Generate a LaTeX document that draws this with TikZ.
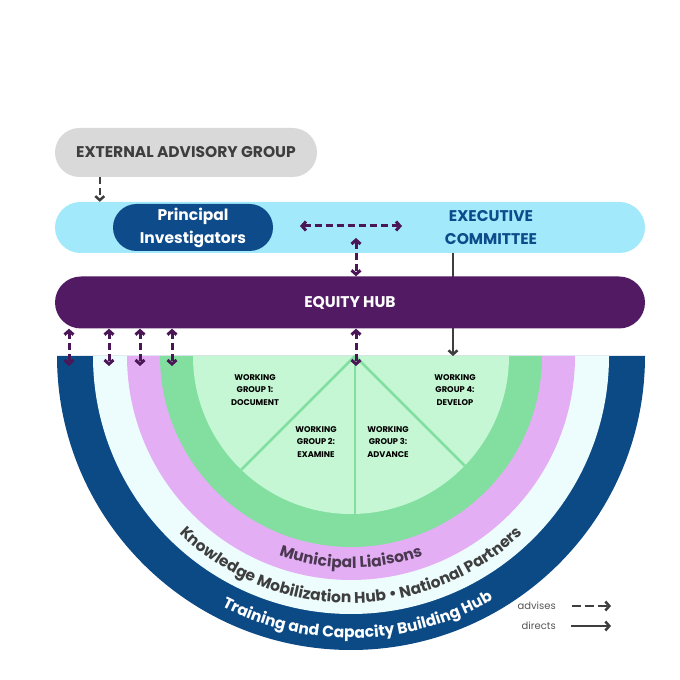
\documentclass[tikz,border=0pt]{standalone}
\usepackage{fontspec}
\setmainfont{Poppins}
\usetikzlibrary{arrows.meta,decorations.text}
\definecolor{eaggray}{HTML}{D9D9D9}
\definecolor{txtgray}{HTML}{3E3E3E}
\definecolor{barcyan}{HTML}{A2EAFB}
\definecolor{navy}{HTML}{0D4B8A}
\definecolor{ringblue}{HTML}{0C4A86}
\definecolor{eqpurple}{HTML}{521A62}
\definecolor{arrpurple}{HTML}{4A1656}
\definecolor{palering}{HTML}{EDFDFD}
\definecolor{pinkring}{HTML}{E4AEF5}
\definecolor{greenring}{HTML}{82DF9F}
\definecolor{lightgreen}{HTML}{C5F7D4}
\definecolor{muntext}{HTML}{4B3851}
\definecolor{legtext}{HTML}{555555}
\begin{document}
\begin{tikzpicture}[x=1pt,y=1pt,
  pill/.style={inner sep=0, align=center, font=\bfseries\fontsize{15.5}{23}\selectfont},
  wgtext/.style={inner sep=0, align=center, font=\bfseries\fontsize{8.3}{12.5}\selectfont, text=black},
  padv/.style={draw=arrpurple, line width=3pt, dash pattern=on 7pt off 4pt,
    {Straight Barb[length=4pt,width=9pt]}-{Straight Barb[length=4pt,width=9pt]}},
  gadv/.style={draw=txtgray, line width=2.5pt, dash pattern=on 7pt off 4pt,
    -{Straight Barb[length=4pt,width=9pt]}},
  gdir/.style={draw=txtgray, line width=2.5pt, -{Straight Barb[length=4pt,width=9pt]}},
  pieline/.style={draw=greenring, line width=2.5pt},
  curvetext/.style={decorate, decoration={text along path, text align=center}}
]
\useasboundingbox (0,0) rectangle (680,680);

% wheel
\coordinate (wc) at (351,324);
\fill[ringblue] (wc) ++(180:294) arc[start angle=180,end angle=360,radius=294] -- cycle;
\fill[palering] (wc) ++(180:258) arc[start angle=180,end angle=360,radius=258] -- cycle;
\fill[pinkring] (wc) ++(180:224) arc[start angle=180,end angle=360,radius=224] -- cycle;
\fill[greenring] (wc) ++(180:191) arc[start angle=180,end angle=360,radius=191] -- cycle;
\fill[lightgreen] (wc) ++(180:158) arc[start angle=180,end angle=360,radius=158] -- cycle;

\coordinate (pc) at (355,324);
\draw[pieline] (pc) -- (241.3,210.3);
\draw[pieline] (pc) -- (464.7,214.3);
\draw[pieline] (pc) -- (355,166);

\node[wgtext] (wg1) at (255,290) {WORKING\\GROUP 1:\\DOCUMENT};
\node[wgtext] (wg2) at (316,238) {WORKING\\GROUP 2:\\EXAMINE};
\node[wgtext] (wg3) at (388,238) {WORKING\\GROUP 3:\\ADVANCE};
\node[wgtext] (wg4) at (455,290) {WORKING\\GROUP 4:\\DEVELOP};

% curved texts
\path[curvetext, decoration={text={|\bfseries\fontsize{15.5}{16}\selectfont\color{muntext}|Municipal Liaisons}}]
  (wc) ++(190:212) arc[start angle=190,end angle=350,radius=212];
\path[curvetext, decoration={text={|\bfseries\fontsize{15.5}{16}\selectfont\color{txtgray}|Knowledge Mobilization Hub • National Partners}}]
  (wc) ++(185:247) arc[start angle=185,end angle=355,radius=247];
\path[curvetext, decoration={text={|\bfseries\fontsize{15.5}{16}\selectfont\color{white}|Training and Capacity Building Hub}}]
  (wc) ++(186:282) arc[start angle=186,end angle=357,radius=282];

% top blocks
\node[pill, fill=eaggray, text=txtgray, minimum width=262, minimum height=49, rounded corners=24.5pt] (eag) at (186,527.5) {EXTERNAL ADVISORY GROUP};
\node[fill=barcyan, minimum width=590, minimum height=51, rounded corners=25.5pt, inner sep=0] (execbar) at (350,452.5) {};
\node[pill, fill=navy, text=white, minimum width=160, minimum height=47, rounded corners=23.5pt] (pi) at (193,452.5) {Principal\\Investigators};
\node[pill, text=navy] (exec) at (491,452.5) {EXECUTIVE\\COMMITTEE};

% directs line (behind equity hub)
\coordinate (dtop) at (453,427);
\draw[gdir] (dtop) -- (dtop |- wc);

\node[pill, fill=eqpurple, text=white, minimum width=590, minimum height=52, rounded corners=26pt] (equity) at (350,377.5) {EQUITY HUB};

% advises arrows
\draw[gadv] ([xshift=45]eag.south west) -- ([xshift=45]execbar.north west);
\coordinate (hl) at (300,454);
\coordinate (hr) at (402,454);
\draw[padv] (hl) -- (hr);
\coordinate (vt) at (356,442);
\draw[padv] (vt) -- (vt |- equity.north);

\coordinate (r1) at (69,314);
\coordinate (r2) at (109,314);
\coordinate (r3) at (140,314);
\coordinate (r4) at (172,314);
\coordinate (r5) at (356,314);
\foreach \r in {r1,r2,r3,r4,r5}
  \draw[padv] (\r |- equity.south) -- (\r);

% legend
\node[anchor=east, inner sep=0, text=legtext, font=\fontsize{10}{10}\selectfont] (adv) at (556,74) {advises};
\node[anchor=east, inner sep=0, text=legtext, font=\fontsize{10}{10}\selectfont] (dir) at (556,54) {directs};
\draw[gadv, dash pattern=on 9pt off 4pt] ([xshift=16]adv.east) -- ([xshift=55]adv.east);
\draw[gdir] ([xshift=15]dir.east) -- ([xshift=55]dir.east);
\end{tikzpicture}
\end{document}
